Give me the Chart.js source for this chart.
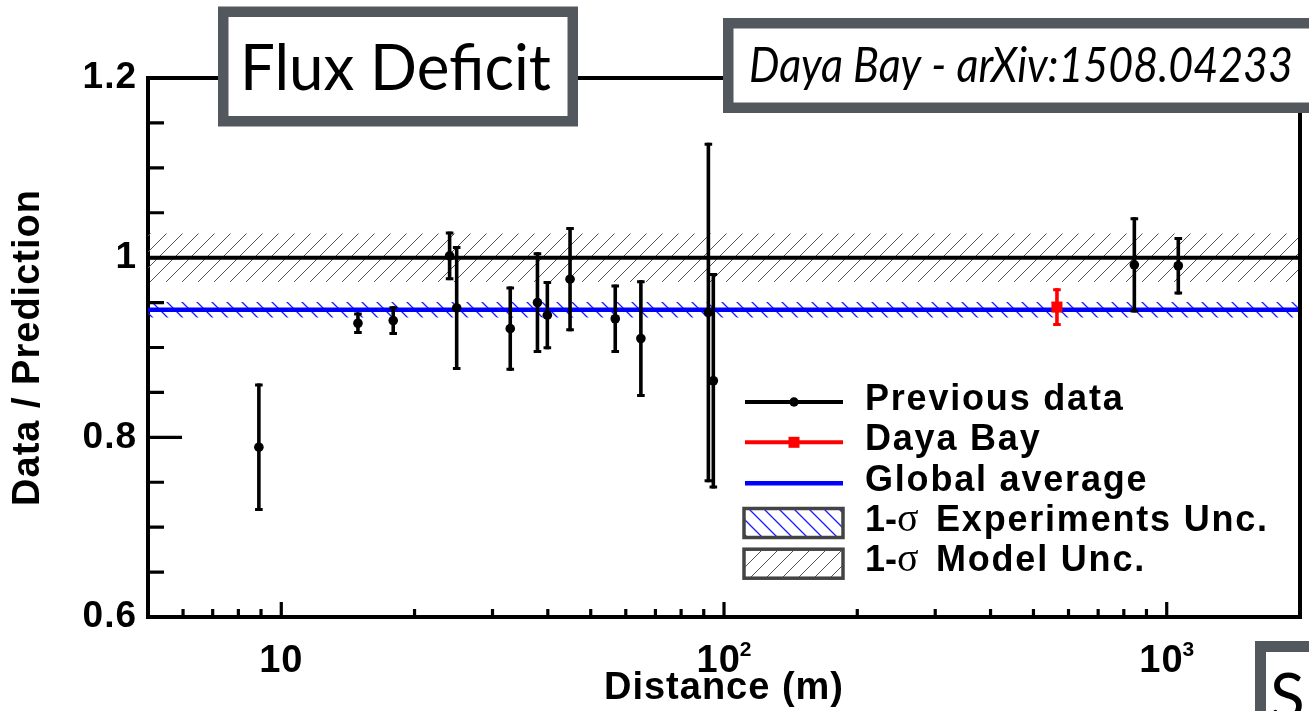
<!DOCTYPE html>
<html>
<head>
<meta charset="utf-8">
<title>Flux Deficit</title>
<script src="https://cdn.jsdelivr.net/npm/chart.js@4.4.1/dist/chart.umd.min.js"></script>
<style>
  html, body { margin: 0; padding: 0; background: #ffffff; }
  canvas { display: block; }
</style>
</head>
<body>
<canvas id="c" width="1309" height="711"></canvas>
<script>
// Reactor experiments: baseline (m) against measured / predicted flux ratio
const prevDistance = [8.9, 14.9, 17.9, 24.0, 24.9, 32.9, 37.9, 39.9, 44.9, 56.8, 64.9, 92.2, 94.6, 845, 1062];
const prevRatio    = [0.789, 0.927, 0.930, 1.002, 0.944, 0.921, 0.950, 0.936, 0.976, 0.932, 0.910, 0.939, 0.863, 0.992, 0.991];
const prevError    = [0.071, 0.012, 0.016, 0.027, 0.069, 0.047, 0.056, 0.038, 0.058, 0.038, 0.065, 0.189, 0.120, 0.053, 0.032];

const dybDistance = [565];
const dybRatio    = [0.945];
const dybError    = [0.021];

const globalAverage    = 0.942;
const globalAverageUnc = 0.0087;
const modelPrediction  = 1.0;
const modelUnc         = 0.027;

const xRange = [5, 2000];
const yRange = [0.6, 1.2];
const xTicks = [6, 7, 8, 9, 10, 20, 30, 40, 50, 60, 70, 80, 90, 100, 200, 300, 400, 500, 600, 700, 800, 900, 1000];
const xTickLabels = { 10: '10', 100: '10^2', 1000: '10^3' };
const yTicks = [0.6, 0.65, 0.7, 0.75, 0.8, 0.85, 0.9, 0.95, 1.0, 1.05, 1.1, 1.15, 1.2];
const yTickLabels = { 0.6: '0.6', 0.8: '0.8', 1: '1', 1.2: '1.2' };

const xTitle = 'Distance (m)';
const yTitle = 'Data / Prediction';
const titleText = 'Flux Deficit';
const sourceText = 'Daya Bay - arXiv:1508.04233';
const cornerText = 'S';
const legendLabels = ['Previous data', 'Daya Bay', 'Global average', '1-\u03C3 Experiments Unc.', '1-\u03C3 Model Unc.'];

const SANS = '"Liberation Sans", Arial, Helvetica, sans-serif';
const HUMANIST = 'Lato, "Open Sans", sans-serif';
const BOX_GREY = '#53575e';

const canvas = document.getElementById('c');
const mainCtx = canvas.getContext('2d');

// diagonal hatch pattern; dir > 0 draws '/', dir < 0 draws '\'
function hatch(color, spacing, dir, width) {
  const c = document.createElement('canvas');
  c.width = spacing; c.height = spacing;
  const g = c.getContext('2d');
  g.strokeStyle = color;
  g.lineWidth = width;
  g.beginPath();
  if (dir > 0) {
    g.moveTo(-1, spacing + 1); g.lineTo(spacing + 1, -1);
    g.moveTo(-1, 1); g.lineTo(1, -1);
    g.moveTo(spacing - 1, spacing + 1); g.lineTo(spacing + 1, spacing - 1);
  } else {
    g.moveTo(-1, -1); g.lineTo(spacing + 1, spacing + 1);
    g.moveTo(spacing - 1, -1); g.lineTo(spacing + 1, 1);
    g.moveTo(-1, spacing - 1); g.lineTo(1, spacing + 1);
  }
  g.stroke();
  return mainCtx.createPattern(c, 'repeat');
}
const modelHatch = hatch('#555555', 16, 1, 1);
const expHatch = hatch('#1a1aff', 15, -1, 1.3);

const flat = (y) => xRange.map(x => ({ x, y }));
const NONE = 'rgba(0,0,0,0)';

// text squeezed or widened horizontally to a given width
function fitText(ctx, text, x, y, width) {
  const w = ctx.measureText(text).width;
  ctx.save();
  ctx.translate(x, y);
  ctx.scale(width / w, 1);
  ctx.fillText(text, 0, 0);
  ctx.restore();
}

// vertical error bars with small caps, drawn under each point series
const errorBars = {
  id: 'errorBars',
  beforeDatasetDraw(chart, args) {
    const ds = chart.data.datasets[args.index];
    if (!ds.errors) return;
    const { ctx } = chart;
    const xs = chart.scales.x, ys = chart.scales.y;
    ctx.save();
    ctx.strokeStyle = ds.pointBackgroundColor;
    ds.data.forEach((p, i) => {
      const px = xs.getPixelForValue(p.x);
      const top = ys.getPixelForValue(p.y + ds.errors[i]);
      const bot = ys.getPixelForValue(p.y - ds.errors[i]);
      ctx.lineWidth = 3.6;
      ctx.beginPath(); ctx.moveTo(px, top); ctx.lineTo(px, bot); ctx.stroke();
      ctx.lineWidth = 3;
      ctx.beginPath();
      ctx.moveTo(px - 3.8, top + 1.5); ctx.lineTo(px + 3.8, top + 1.5);
      ctx.moveTo(px - 3.8, bot - 1.5); ctx.lineTo(px + 3.8, bot - 1.5);
      ctx.stroke();
    });
    ctx.restore();
  }
};

// inward tick marks, decade labels and the top and right edges of the frame
const frame = {
  id: 'frame',
  beforeDraw(chart) { chart.ctx.letterSpacing = '1px'; },
  afterDatasetsDraw(chart) {
    const { ctx, chartArea: a } = chart;
    const xs = chart.scales.x, ys = chart.scales.y;
    ctx.save();
    ctx.strokeStyle = '#000';
    ctx.lineWidth = 3.2;
    ctx.beginPath();
    yTicks.forEach(v => {
      const py = ys.getPixelForValue(v);
      const len = yTickLabels[v] ? 34 : 16;
      ctx.moveTo(a.left, py); ctx.lineTo(a.left + len, py);
    });
    xTicks.forEach(v => {
      const px = xs.getPixelForValue(v);
      const len = xTickLabels[v] ? 15 : 8;
      ctx.moveTo(px, a.bottom); ctx.lineTo(px, a.bottom - len);
    });
    ctx.stroke();
    ctx.lineWidth = 4;
    ctx.beginPath();
    ctx.moveTo(a.left - 2, a.top); ctx.lineTo(a.right + 2, a.top);
    ctx.moveTo(a.right, a.top); ctx.lineTo(a.right, a.bottom + 2);
    ctx.stroke();

    // decade labels with raised exponents
    ctx.fillStyle = '#000';
    ctx.textBaseline = 'alphabetic';
    ctx.textAlign = 'left';
    xTicks.forEach(v => {
      const label = xTickLabels[v];
      if (!label) return;
      const [base, exp] = label.split('^');
      ctx.letterSpacing = '1px';
      ctx.font = 'bold 38px ' + SANS;
      const wb = ctx.measureText(base).width;
      let we = 0;
      if (exp) {
        ctx.font = 'bold 21px ' + SANS;
        we = ctx.measureText(exp).width;
      }
      const px = xs.getPixelForValue(v);
      const x0 = px - (wb + we) / 2 + (exp ? 1 : 0);
      ctx.font = 'bold 38px ' + SANS;
      ctx.fillText(base, x0, a.bottom + 55);
      if (exp) {
        ctx.font = 'bold 21px ' + SANS;
        ctx.fillText(exp, x0 + wb - 1, a.bottom + 39);
      }
    });
    ctx.restore();
  }
};

function framedBox(ctx, x, y, w, h, t) {
  ctx.fillStyle = BOX_GREY;
  ctx.fillRect(x, y, w, h);
  ctx.fillStyle = '#ffffff';
  ctx.fillRect(x + t, y + t, w - 2 * t, h - 2 * t);
}

// legend and the framed captions
const overlay = {
  id: 'overlay',
  afterDraw(chart) {
    const ctx = chart.ctx;
    const ds = chart.data.datasets;
    ctx.save();

    // legend samples
    const sx0 = 745, sx1 = 843, mx = 794, tx = 865;
    const rows = [402, 442.3, 483.3, 523, 563.7];
    ctx.lineCap = 'butt';
    ctx.strokeStyle = ds[0].pointBackgroundColor; ctx.lineWidth = 4;
    ctx.beginPath(); ctx.moveTo(sx0, rows[0]); ctx.lineTo(sx1, rows[0]); ctx.stroke();
    ctx.fillStyle = ds[0].pointBackgroundColor;
    ctx.beginPath(); ctx.arc(mx, rows[0], 4.7, 0, Math.PI * 2); ctx.fill();
    ctx.strokeStyle = ds[1].pointBackgroundColor;
    ctx.beginPath(); ctx.moveTo(sx0, rows[1]); ctx.lineTo(sx1, rows[1]); ctx.stroke();
    ctx.fillStyle = ds[1].pointBackgroundColor;
    ctx.fillRect(mx - 5.5, rows[1] - 5.5, 11, 11);
    ctx.strokeStyle = ds[2].borderColor; ctx.lineWidth = 4.5;
    ctx.beginPath(); ctx.moveTo(sx0, rows[2]); ctx.lineTo(sx1, rows[2]); ctx.stroke();
    [[rows[3], expHatch], [rows[4], modelHatch]].forEach(([cy, pat]) => {
      ctx.fillStyle = '#ffffff';
      ctx.fillRect(744, cy - 14.5, 99, 29);
      ctx.fillStyle = pat;
      ctx.fillRect(744, cy - 14.5, 99, 29);
      ctx.strokeStyle = '#444444'; ctx.lineWidth = 3.5;
      ctx.strokeRect(744, cy - 14.5, 99, 29);
    });

    // legend text
    ctx.fillStyle = '#000';
    ctx.textBaseline = 'alphabetic';
    ctx.textAlign = 'left';
    const boldFont = 'bold 36px ' + SANS;
    const serifFont = '40px "Liberation Serif", "DejaVu Serif", serif';
    legendLabels.forEach((label, i) => {
      const base = rows[i] + 7.5;
      const parts = label.split('\u03C3');
      if (parts.length === 2) {
        ctx.letterSpacing = '0px';
        ctx.font = boldFont;
        ctx.fillText(parts[0], tx, base);
        ctx.font = serifFont;
        ctx.fillText('\u03C3', tx + 32, base);
        ctx.letterSpacing = '1.8px';
        ctx.font = boldFont;
        ctx.fillText(parts[1].trimStart(), tx + 71, base);
      } else {
        ctx.letterSpacing = '1.8px';
        ctx.font = boldFont;
        ctx.fillText(label, tx, base);
      }
    });

    // captions in grey frames
    ctx.letterSpacing = '0px';
    framedBox(ctx, 218, 6.5, 360, 120, 10.5);
    ctx.fillStyle = '#000';
    ctx.font = '64px ' + HUMANIST;
    fitText(ctx, titleText, 240, 90, 311);

    framedBox(ctx, 723, 18, 640, 95, 10.5);
    ctx.fillStyle = '#000';
    ctx.font = 'italic 48px ' + HUMANIST;
    fitText(ctx, sourceText, 749, 82, 544);

    framedBox(ctx, 1255, 641, 120, 120, 11);
    ctx.fillStyle = '#000';
    ctx.font = '64px ' + HUMANIST;
    ctx.fillText(cornerText, 1270, 719);

    ctx.restore();
  }
};

new Chart(canvas, {
  type: 'scatter',
  data: {
    datasets: [
      {
        label: legendLabels[0],
        data: prevDistance.map((x, i) => ({ x, y: prevRatio[i] })),
        errors: prevError,
        pointRadius: 4.8, pointBorderWidth: 0,
        pointBackgroundColor: '#000000', pointBorderColor: '#000000',
        order: 0
      },
      {
        label: legendLabels[1],
        data: dybDistance.map((x, i) => ({ x, y: dybRatio[i] })),
        errors: dybError,
        pointStyle: 'rect', pointRadius: 7.8, pointBorderWidth: 0,
        pointBackgroundColor: '#ff0000', pointBorderColor: '#ff0000',
        order: 0
      },
      {
        label: legendLabels[2],
        data: flat(globalAverage),
        showLine: true, borderColor: '#0000ff', borderWidth: 4.5, pointRadius: 0,
        order: 1
      },
      {
        label: 'Model prediction',
        data: flat(modelPrediction),
        showLine: true, borderColor: '#000000', borderWidth: 4, pointRadius: 0,
        order: 1
      },
      {
        label: legendLabels[3],
        data: flat(globalAverage + globalAverageUnc),
        showLine: true, borderColor: NONE, borderWidth: 0, pointRadius: 0,
        fill: '+1', backgroundColor: expHatch,
        order: 2
      },
      {
        label: 'exp-low',
        data: flat(globalAverage - globalAverageUnc),
        showLine: true, borderColor: NONE, borderWidth: 0, pointRadius: 0,
        order: 2
      },
      {
        label: legendLabels[4],
        data: flat(modelPrediction + modelUnc),
        showLine: true, borderColor: NONE, borderWidth: 0, pointRadius: 0,
        fill: '+1', backgroundColor: modelHatch,
        order: 2
      },
      {
        label: 'model-low',
        data: flat(modelPrediction - modelUnc),
        showLine: true, borderColor: NONE, borderWidth: 0, pointRadius: 0,
        order: 2
      }
    ]
  },
  options: {
    responsive: false,
    animation: false,
    devicePixelRatio: 1,
    layout: { padding: { top: 78, right: 9, left: 0, bottom: 0 } },
    font: { family: SANS },
    plugins: {
      legend: { display: false },
      tooltip: { enabled: false }
    },
    scales: {
      x: {
        type: 'logarithmic',
        min: xRange[0], max: xRange[1],
        afterBuildTicks: s => { s.ticks = xTicks.map(v => ({ value: v })); },
        afterFit: s => { s.height = 94; },
        grid: { display: false, drawTicks: false },
        border: { display: true, width: 4, color: '#000000' },
        ticks: { display: false, autoSkip: false },
        title: {
          display: true, text: xTitle, color: '#000000',
          font: { family: SANS, size: 38, weight: 'bold', lineHeight: 1.2 },
          padding: { top: 0, bottom: 0 }
        }
      },
      y: {
        type: 'linear',
        min: yRange[0], max: yRange[1],
        afterBuildTicks: s => { s.ticks = yTicks.map(v => ({ value: v })); },
        afterFit: s => { s.width = 148; },
        grid: { display: false, drawTicks: false },
        border: { display: true, width: 4, color: '#000000' },
        ticks: {
          autoSkip: false, padding: 11,
          color: '#000000',
          font: { family: SANS, size: 37, weight: 'bold' },
          callback: v => yTickLabels[v] || ''
        },
        title: {
          display: true, text: yTitle, color: '#000000',
          font: { family: SANS, size: 38, weight: 'bold', lineHeight: 1.2 },
          padding: { top: 6, bottom: 0 }
        }
      }
    }
  },
  plugins: [errorBars, frame, overlay]
});
</script>
</body>
</html>
